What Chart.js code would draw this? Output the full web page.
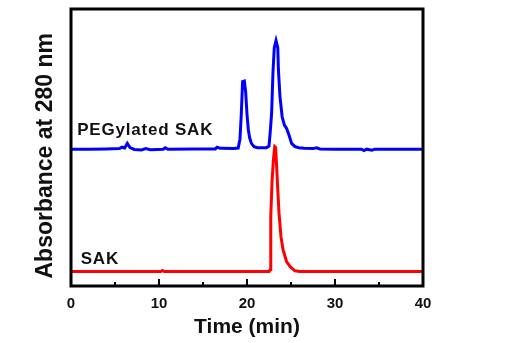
<!DOCTYPE html>
<html>
<head>
<meta charset="utf-8">
<script src="https://cdn.jsdelivr.net/npm/chart.js@4"></script>
<style>
  body { margin: 0; background: #fff; }
  #wrap { width: 532px; height: 343px; }
</style>
</head>
<body>
<div id="wrap"><canvas id="myChart"></canvas></div>
<script>
// chromatogram traces (y in arbitrary absorbance units)
const blueTime = [0, 2, 4, 5.5, 5.8, 6.1, 6.4, 6.7, 7.2, 8, 8.5, 9, 10.5, 10.7, 11, 14, 16.4, 16.6, 17, 18.5,
  19.0, 19.2, 19.35, 19.5, 19.7, 19.85, 20.0, 20.15, 20.3, 20.5, 20.8, 21.2, 22.2, 22.5, 22.65, 22.8, 22.95, 23.1,
  23.3, 23.5, 23.57, 23.75, 24.0, 24.25, 24.5, 24.77, 25.07, 25.45, 25.9, 26.5, 27.5, 27.9, 28.3, 30, 33, 33.3,
  33.6, 34.2, 34.5, 37, 40];
const blueAbs = [49.4, 49.4, 49.5, 49.6, 50.1, 49.8, 51.5, 50.0, 49.3, 49.1, 49.6, 49.2, 49.4, 49.9, 49.4, 49.5, 49.5, 50.1, 49.7, 49.6,
  49.8, 53, 62, 73.8, 74, 70, 62, 56.5, 53.5, 51.5, 50.3, 49.9, 49.9, 50.5, 56, 62.5, 77, 86,
  88.6, 86, 78, 68.3, 61, 58.1, 56.9, 54.5, 51.5, 50.3, 49.9, 49.7, 49.6, 49.9, 49.5, 49.4, 49.4, 48.9,
  49.4, 49.0, 49.4, 49.4, 49.4];

const redTime = [0, 10.2, 10.4, 10.6, 22.5, 22.65, 22.7, 22.85, 23.0, 23.15, 23.25, 23.37, 23.48, 23.64, 23.86,
  24.1, 24.5, 24.9, 25.45, 26, 40];
const redAbs = [5.2, 5.2, 5.6, 5.2, 5.2, 6, 25, 38, 45.5, 50.3, 50, 43, 35.8, 26.2, 17.8,
  13, 8.8, 7.0, 5.5, 5.2, 5.2];

const xTicks = [0, 10, 20, 30, 40];
const xMinorTicks = [5, 15, 25, 35];

// trace labels: [text, time, abs]
const traceLabels = [
  ['PEGylated SAK', 0.7, 54.5],
  ['SAK', 1.1, 7.9]
];
const yTitle = 'Absorbance at 280 nm';

const FONT = "'Liberation Sans', Arial, sans-serif";

function toPoints(xs, ys) {
  let pts = [];
  for (let i = 0; i < xs.length; i++) pts.push({x: xs[i], y: ys[i]});
  return pts;
}

const framePlugin = {
  id: 'frame',
  afterDraw(chart) {
    const ctx = chart.ctx;
    const a = chart.chartArea;
    const xs = chart.scales.x, ys = chart.scales.y;
    ctx.save();
    ctx.strokeStyle = '#000';
    ctx.lineWidth = 3;
    ctx.strokeRect(a.left, a.top, a.right - a.left, a.bottom - a.top);
    // inward ticks
    ctx.lineWidth = 2;
    ctx.beginPath();
    xTicks.forEach(v => {
      let px = xs.getPixelForValue(v);
      ctx.moveTo(px, a.bottom);
      ctx.lineTo(px, a.bottom - 7);
    });
    xMinorTicks.forEach(v => {
      let px = xs.getPixelForValue(v);
      ctx.moveTo(px, a.bottom);
      ctx.lineTo(px, a.bottom - 4);
    });
    ctx.stroke();
    // trace labels
    ctx.fillStyle = '#111';
    ctx.font = 'bold 17px ' + FONT;
    ctx.textBaseline = 'alphabetic';
    ctx.letterSpacing = '0.8px';
    traceLabels.forEach(l => {
      ctx.fillText(l[0], xs.getPixelForValue(l[1]), ys.getPixelForValue(l[2]));
    });
    // y title, a bit below the axis centre as in the figure
    ctx.letterSpacing = '0px';
    ctx.font = 'bold 23px ' + FONT;
    ctx.textAlign = 'center';
    ctx.textBaseline = 'middle';
    ctx.translate(46, ys.getPixelForValue(47));
    ctx.rotate(-Math.PI / 2);
    ctx.fillText(yTitle, 0, 0);
    ctx.restore();
  }
};

const data = {
  datasets: [
    {
      label: 'PEGylated SAK',
      data: toPoints(blueTime, blueAbs),
      borderColor: 'rgb(0, 0, 255)',
      borderWidth: 3,
      pointRadius: 0,
      tension: 0
    },
    {
      label: 'SAK',
      data: toPoints(redTime, redAbs),
      borderColor: 'rgb(255, 0, 0)',
      borderWidth: 3,
      pointRadius: 0,
      tension: 0
    }
  ]
};

const config = {
  type: 'line',
  data: data,
  options: {
    responsive: true,
    maintainAspectRatio: false,
    animation: false,
    layout: { padding: { top: 9, right: 109, left: 0, bottom: 0 } },
    plugins: {
      legend: { display: false },
      tooltip: { enabled: false }
    },
    scales: {
      x: {
        type: 'linear',
        min: 0,
        max: 40,
        afterBuildTicks: s => { s.ticks = xTicks.map(v => ({value: v})); },
        afterFit: s => { s.height = 57; },
        grid: { display: false },
        border: { display: false },
        ticks: {
          autoSkip: false,
          maxRotation: 0,
          padding: 1,
          color: '#111',
          font: { family: FONT, size: 15, weight: 'bold' }
        },
        title: {
          display: true,
          text: 'Time (min)',
          color: '#111',
          padding: { top: 0, bottom: 3 },
          font: { family: FONT, size: 21, weight: 'bold' }
        }
      },
      y: {
        min: 0,
        max: 100,
        afterFit: s => { s.width = 71; },
        grid: { display: false },
        border: { display: false },
        ticks: { display: false },
        title: { display: false }
      }
    }
  },
  plugins: [framePlugin]
};

const myChart = new Chart(document.getElementById('myChart'), config);
</script>
</body>
</html>
